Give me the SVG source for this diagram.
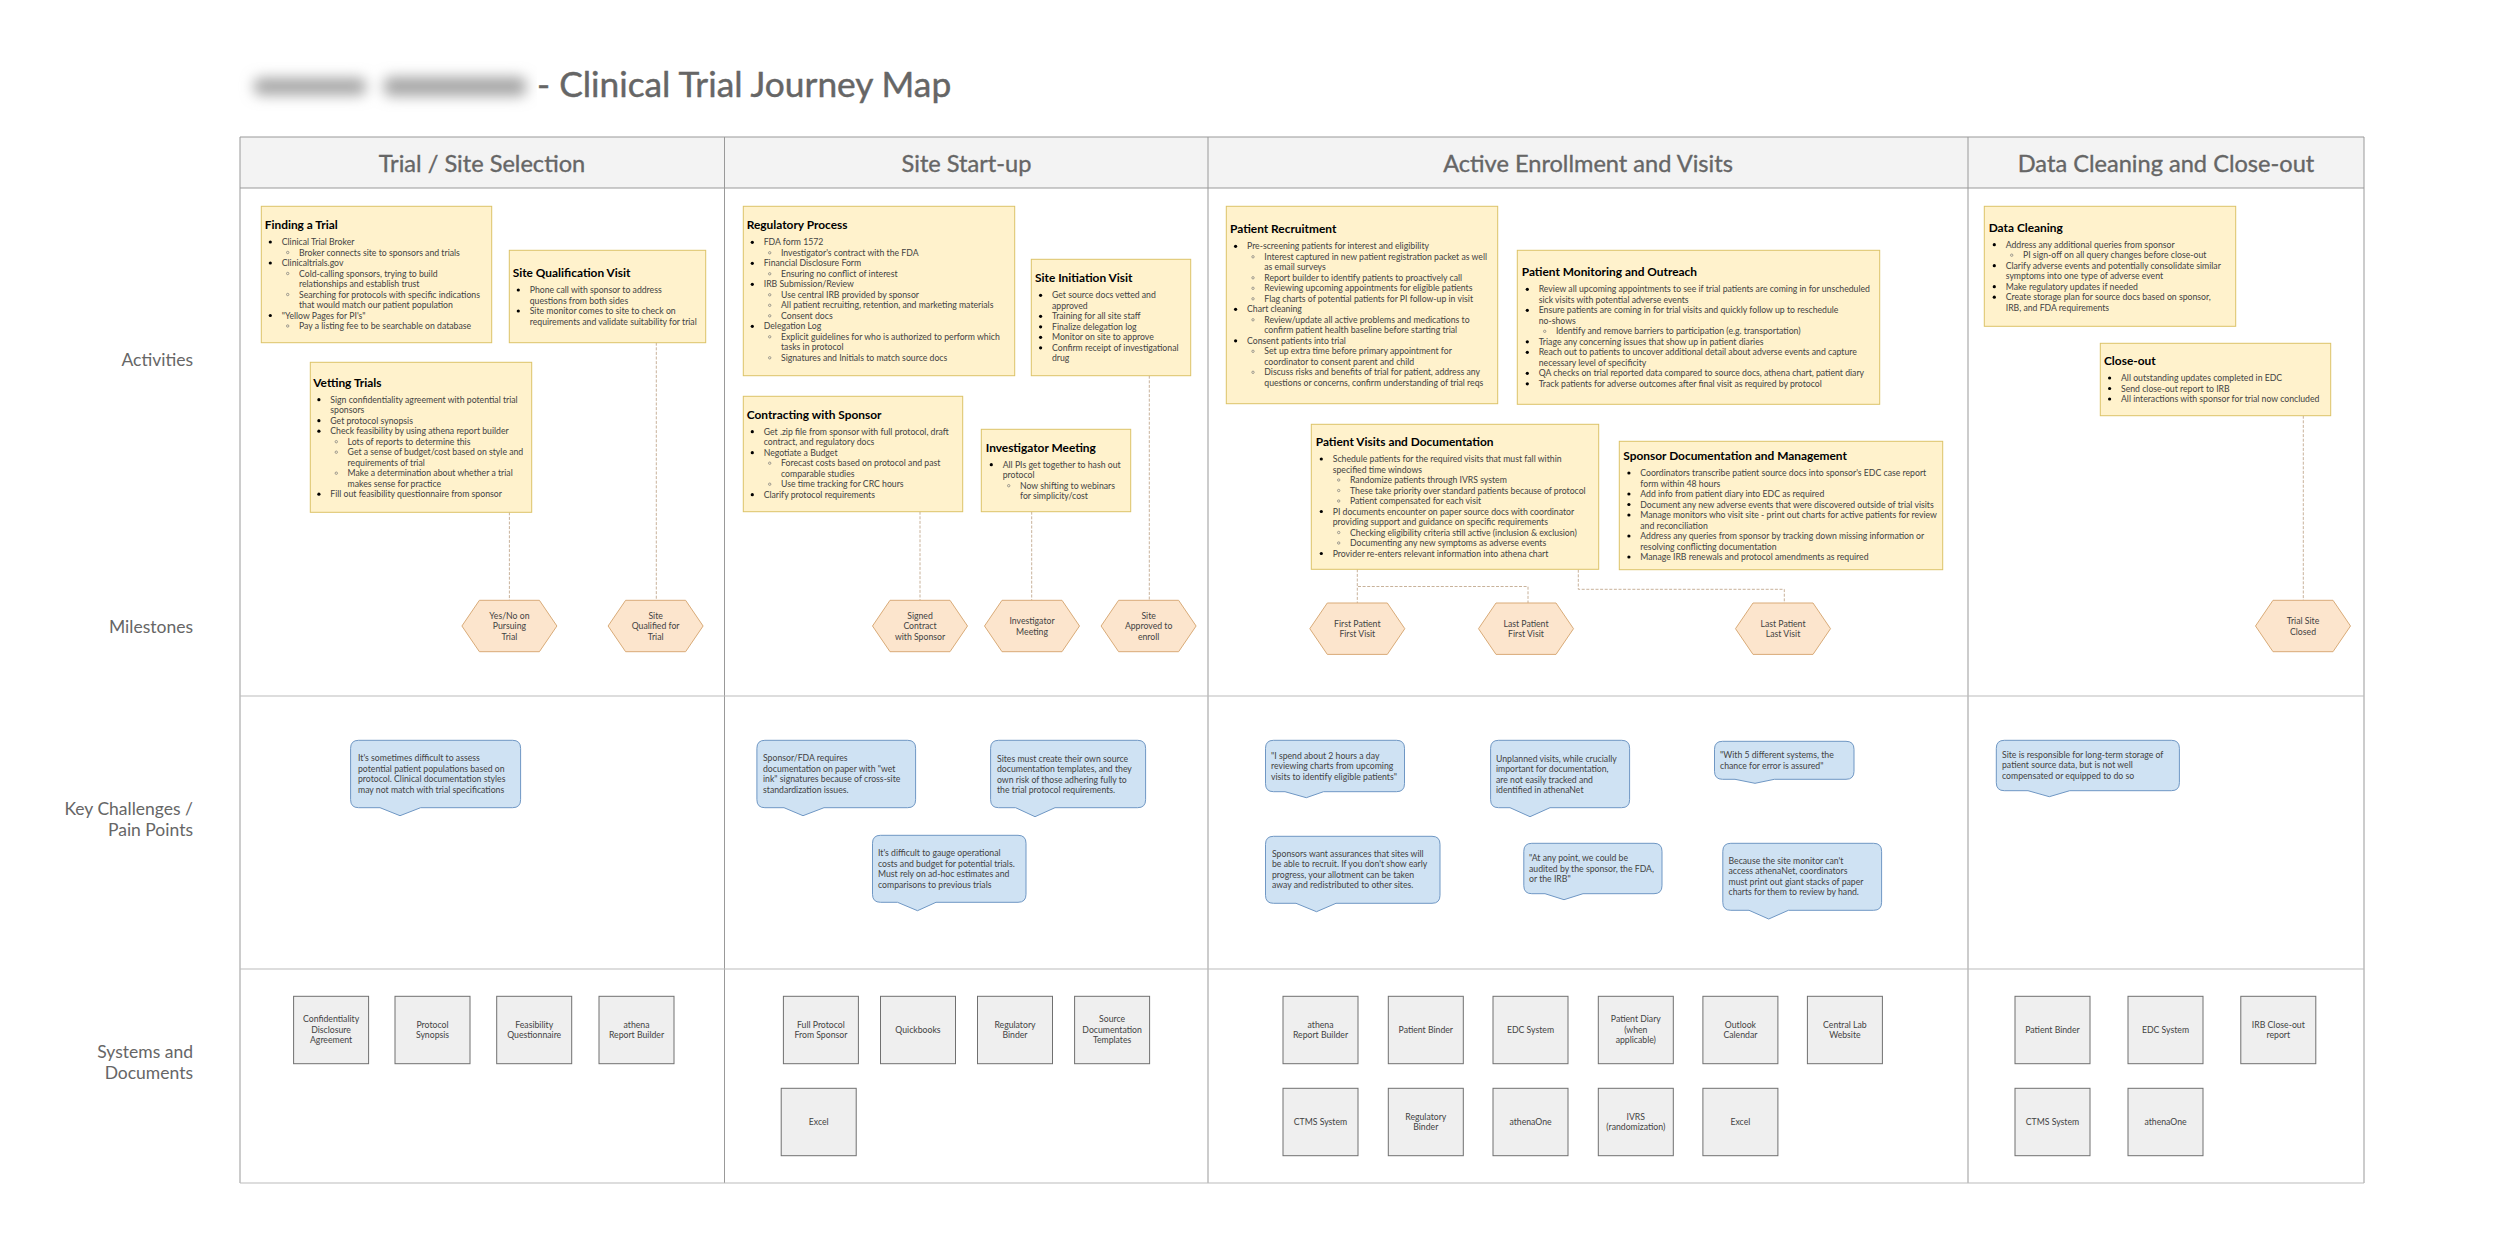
<svg xmlns="http://www.w3.org/2000/svg" width="2500" height="1250" viewBox="0 0 2500 1250">
<style>
text{font-family:"Lato","Liberation Sans",sans-serif;fill:#434343;font-size:8.7px}
.h{fill:#000;font-size:11.9px;font-weight:700}
.m{text-anchor:middle}
.c{fill:#fff2cc;stroke:#dcc368;stroke-width:1}
.hx{fill:#fce5cd;stroke:#d9ab78;stroke-width:1}
.bb{fill:#cfe2f3;stroke:#6f97c4;stroke-width:1}
.bx{fill:#efefef;stroke:#707070;stroke-width:1}
.b{fill:#000}
.o{fill:none;stroke:#777;stroke-width:.7}
.hd{fill:#666;stroke:#666;stroke-width:.35;font-size:23.6px;text-anchor:middle}
.rl{fill:#666;font-size:17.5px;text-anchor:end}
.g{stroke:#bbb;stroke-width:1.2;fill:none}
.g2{stroke:#999;stroke-width:1;fill:none}
.dl{stroke:#c2a98e;stroke-width:.9;stroke-dasharray:3 1.6;fill:none}
</style>
<defs>
<filter id="blur" x="-15%" y="-100%" width="130%" height="300%"><feGaussianBlur stdDeviation="7"/></filter>
<clipPath id="blurclip"><rect x="232" y="58" width="305" height="58"/></clipPath>
<polygon id="hex" class="hx" points="-47.5,0 -30,-25.7 30,-25.7 47.5,0 30,25.7 -30,25.7"/>
<rect id="box" class="bx" width="75" height="67.4"/>
<circle id="d" class="b" r="1.6"/>
<circle id="e" class="o" r="1.2"/>
</defs>
<rect width="2500" height="1250" fill="#fff"/>
<g id="title">
<g clip-path="url(#blurclip)"><g filter="url(#blur)" fill="#a4a4a4"><rect x="254" y="78" width="112" height="17" rx="6"/><rect x="384" y="77" width="142" height="19" rx="6"/></g></g>
<text x="537" y="97.3" style="fill:#666;stroke:#666;stroke-width:.45;font-size:35.3px">- Clinical Trial Journey Map</text>
</g>
<g id="grid">
<rect x="240" y="137" width="2124" height="51" fill="#f3f3f3"/>
<path class="g2" d="M240 137H2364V1183M240 137V1183M240 188H2364M724.5 137V1183M1208 137V1183M1968 137V1183"/>
<path class="g" d="M240 696H2364M240 969H2364M240 1183H2364"/>
<text class="hd" x="482" y="171.7">Trial / Site Selection</text>
<text class="hd" x="966.5" y="171.7">Site Start-up</text>
<text class="hd" x="1588" y="171.7">Active Enrollment and Visits</text>
<text class="hd" x="2166" y="171.7">Data Cleaning and Close-out</text>
<text class="rl" x="193" y="366">Activities</text>
<text class="rl" x="193" y="633">Milestones</text>
<text class="rl" x="193" y="814.5">Key Challenges /</text>
<text class="rl" x="193" y="835.5">Pain Points</text>
<text class="rl" x="193" y="1058">Systems and</text>
<text class="rl" x="193" y="1079">Documents</text>
</g>
<g id="connectors">
<path class="dl" d="M509.4 512.3V600.3"/>
<path class="dl" d="M656.3 342.7V600.3"/>
<path class="dl" d="M920 511.7V600.3"/>
<path class="dl" d="M1031.7 511.7V600.3"/>
<path class="dl" d="M1149.3 375.7V600.3"/>
<path class="dl" d="M1357.3 569.3V603"/>
<path class="dl" d="M1358 586.5H1528V603"/>
<path class="dl" d="M1578.3 569.7V589.3H1784.3V603"/>
<path class="dl" d="M2303.3 415.7V600.3"/>
</g>

<g id="finding-a-trial">
<rect class="c" x="261.3" y="206.3" width="230.4" height="136.4"/>
<g transform="translate(264.7,229)">
<text class="h">Finding a Trial</text>
<use href="#d" x="5.6" y="13"/><text x="17" y="16">Clinical Trial Broker</text>
<use href="#e" x="23" y="23.5"/><text x="34.3" y="26.5">Broker connects site to sponsors and trials</text>
<use href="#d" x="5.6" y="34"/><text x="17" y="37">Clinicaltrials.gov</text>
<use href="#e" x="23" y="44.5"/><text x="34.3" y="47.5">Cold-calling sponsors, trying to build</text>
<text x="34.3" y="58">relationships and establish trust</text>
<use href="#e" x="23" y="65.5"/><text x="34.3" y="68.5">Searching for protocols with specific indications</text>
<text x="34.3" y="79">that would match our patient population</text>
<use href="#d" x="5.6" y="86.5"/><text x="17" y="89.5">"Yellow Pages for PI's"</text>
<use href="#e" x="23" y="97"/><text x="34.3" y="100">Pay a listing fee to be searchable on database</text>
</g></g>

<g id="site-qualification-visit">
<rect class="c" x="509.3" y="250.3" width="196.4" height="92.4"/>
<g transform="translate(512.7,277)">
<text class="h">Site Qualification Visit</text>
<use href="#d" x="5.6" y="13"/><text x="17" y="16">Phone call with sponsor to address</text>
<text x="17" y="26.5">questions from both sides</text>
<use href="#d" x="5.6" y="34"/><text x="17" y="37">Site monitor comes to site to check on</text>
<text x="17" y="47.5">requirements and validate suitability for trial</text>
</g></g>

<g id="vetting-trials">
<rect class="c" x="310.3" y="362.3" width="221.4" height="150"/>
<g transform="translate(313.3,386.7)">
<text class="h">Vetting Trials</text>
<use href="#d" x="5.6" y="13"/><text x="17" y="16">Sign confidentiality agreement with  potential trial</text>
<text x="17" y="26.5">sponsors</text>
<use href="#d" x="5.6" y="34"/><text x="17" y="37">Get protocol synopsis</text>
<use href="#d" x="5.6" y="44.5"/><text x="17" y="47.5">Check feasibility by using athena report builder</text>
<use href="#e" x="23" y="55"/><text x="34.3" y="58">Lots of reports to determine this</text>
<use href="#e" x="23" y="65.5"/><text x="34.3" y="68.5">Get a sense of budget/cost based on style and</text>
<text x="34.3" y="79">requirements of trial</text>
<use href="#e" x="23" y="86.5"/><text x="34.3" y="89.5">Make a determination about whether a trial</text>
<text x="34.3" y="100">makes sense for practice</text>
<use href="#d" x="5.6" y="107.5"/><text x="17" y="110.5">Fill out feasibility questionnaire from sponsor</text>
</g></g>

<g id="regulatory-process">
<rect class="c" x="743.3" y="206.3" width="271.4" height="169.4"/>
<g transform="translate(746.7,229.3)">
<text class="h">Regulatory Process</text>
<use href="#d" x="5.6" y="13"/><text x="17" y="16">FDA form 1572</text>
<use href="#e" x="23" y="23.5"/><text x="34.3" y="26.5">Investigator's contract with the FDA</text>
<use href="#d" x="5.6" y="34"/><text x="17" y="37">Financial Disclosure Form</text>
<use href="#e" x="23" y="44.5"/><text x="34.3" y="47.5">Ensuring no conflict of interest</text>
<use href="#d" x="5.6" y="55"/><text x="17" y="58">IRB Submission/Review</text>
<use href="#e" x="23" y="65.5"/><text x="34.3" y="68.5">Use central IRB provided by sponsor</text>
<use href="#e" x="23" y="76"/><text x="34.3" y="79">All patient recruiting, retention, and marketing materials</text>
<use href="#e" x="23" y="86.5"/><text x="34.3" y="89.5">Consent docs</text>
<use href="#d" x="5.6" y="97"/><text x="17" y="100">Delegation Log</text>
<use href="#e" x="23" y="107.5"/><text x="34.3" y="110.5">Explicit guidelines  for who is authorized to perform which</text>
<text x="34.3" y="121">tasks in protocol</text>
<use href="#e" x="23" y="128.5"/><text x="34.3" y="131.5">Signatures and Initials to match source docs</text>
</g></g>

<g id="site-initiation-visit">
<rect class="c" x="1031.3" y="259.3" width="159.4" height="116.4"/>
<g transform="translate(1035,282.3)">
<text class="h">Site Initiation Visit</text>
<use href="#d" x="5.6" y="13"/><text x="17" y="16">Get source docs vetted and</text>
<text x="17" y="26.5">approved</text>
<use href="#d" x="5.6" y="34"/><text x="17" y="37">Training for all site staff</text>
<use href="#d" x="5.6" y="44.5"/><text x="17" y="47.5">Finalize delegation log</text>
<use href="#d" x="5.6" y="55"/><text x="17" y="58">Monitor on site to approve</text>
<use href="#d" x="5.6" y="65.5"/><text x="17" y="68.5">Confirm receipt of investigational</text>
<text x="17" y="79">drug</text>
</g></g>

<g id="contracting-with-sponsor">
<rect class="c" x="743.3" y="396.3" width="219.4" height="115.4"/>
<g transform="translate(746.7,418.7)">
<text class="h">Contracting with Sponsor</text>
<use href="#d" x="5.6" y="13"/><text x="17" y="16">Get .zip file from sponsor with full protocol, draft</text>
<text x="17" y="26.5">contract, and regulatory docs</text>
<use href="#d" x="5.6" y="34"/><text x="17" y="37">Negotiate a Budget</text>
<use href="#e" x="23" y="44.5"/><text x="34.3" y="47.5">Forecast costs based on protocol and past</text>
<text x="34.3" y="58">comparable studies</text>
<use href="#e" x="23" y="65.5"/><text x="34.3" y="68.5">Use time tracking for CRC hours</text>
<use href="#d" x="5.6" y="76"/><text x="17" y="79">Clarify protocol requirements</text>
</g></g>

<g id="investigator-meeting">
<rect class="c" x="981.3" y="429.3" width="149.4" height="82.4"/>
<g transform="translate(985.7,451.7)">
<text class="h">Investigator Meeting</text>
<use href="#d" x="5.6" y="13"/><text x="17" y="16">All PIs get together to hash out</text>
<text x="17" y="26.5">protocol</text>
<use href="#e" x="23" y="34"/><text x="34.3" y="37">Now shifting to webinars</text>
<text x="34.3" y="47.5">for simplicity/cost</text>
</g></g>

<g id="patient-recruitment">
<rect class="c" x="1226.3" y="206.3" width="271.4" height="197.4"/>
<g transform="translate(1230,233.3)">
<text class="h">Patient Recruitment</text>
<use href="#d" x="5.6" y="13"/><text x="17" y="16">Pre-screening patients for interest and eligibility</text>
<use href="#e" x="23" y="23.5"/><text x="34.3" y="26.5">Interest captured in new patient registration packet as well</text>
<text x="34.3" y="37">as email surveys</text>
<use href="#e" x="23" y="44.5"/><text x="34.3" y="47.5">Report builder to identify patients to proactively call</text>
<use href="#e" x="23" y="55"/><text x="34.3" y="58">Reviewing upcoming appointments for eligible patients</text>
<use href="#e" x="23" y="65.5"/><text x="34.3" y="68.5">Flag charts of potential patients for PI follow-up in visit</text>
<use href="#d" x="5.6" y="76"/><text x="17" y="79">Chart cleaning</text>
<use href="#e" x="23" y="86.5"/><text x="34.3" y="89.5">Review/update all active problems and medications to</text>
<text x="34.3" y="100">confirm patient health baseline before starting trial</text>
<use href="#d" x="5.6" y="107.5"/><text x="17" y="110.5">Consent patients into trial</text>
<use href="#e" x="23" y="118"/><text x="34.3" y="121">Set up extra time before primary appointment for</text>
<text x="34.3" y="131.5">coordinator to consent parent and child</text>
<use href="#e" x="23" y="139"/><text x="34.3" y="142">Discuss risks and benefits of trial for patient, address any</text>
<text x="34.3" y="152.5">questions or concerns, confirm understanding of trial reqs</text>
</g></g>

<g id="patient-monitoring-and-outreach">
<rect class="c" x="1517.3" y="250.3" width="362.4" height="154"/>
<g transform="translate(1521.7,276.3)">
<text class="h">Patient Monitoring and Outreach</text>
<use href="#d" x="5.6" y="13"/><text x="17" y="16">Review all upcoming appointments to see if trial patients are coming in for unscheduled</text>
<text x="17" y="26.5">sick visits with potential adverse events</text>
<use href="#d" x="5.6" y="34"/><text x="17" y="37">Ensure patients are coming in for trial visits and quickly follow up to reschedule</text>
<text x="17" y="47.5">no-shows</text>
<use href="#e" x="23" y="55"/><text x="34.3" y="58">Identify and remove barriers to participation (e.g. transportation)</text>
<use href="#d" x="5.6" y="65.5"/><text x="17" y="68.5">Triage any concerning issues that show up in patient diaries</text>
<use href="#d" x="5.6" y="76"/><text x="17" y="79">Reach out to patients to uncover additional detail about adverse events and capture</text>
<text x="17" y="89.5">necessary level of specificity</text>
<use href="#d" x="5.6" y="97"/><text x="17" y="100">QA checks on trial reported data compared to source docs, athena chart, patient diary</text>
<use href="#d" x="5.6" y="107.5"/><text x="17" y="110.5">Track patients for adverse outcomes  after final visit as required by protocol</text>
</g></g>

<g id="patient-visits-and-documentation">
<rect class="c" x="1311.3" y="424.3" width="287.4" height="145"/>
<g transform="translate(1315.7,446)">
<text class="h">Patient Visits and Documentation</text>
<use href="#d" x="5.6" y="13"/><text x="17" y="16">Schedule patients for the required visits that must fall within</text>
<text x="17" y="26.5">specified  time windows</text>
<use href="#e" x="23" y="34"/><text x="34.3" y="37">Randomize patients through IVRS system</text>
<use href="#e" x="23" y="44.5"/><text x="34.3" y="47.5">These take priority over standard patients because of protocol</text>
<use href="#e" x="23" y="55"/><text x="34.3" y="58">Patient compensated for each visit</text>
<use href="#d" x="5.6" y="65.5"/><text x="17" y="68.5">PI documents encounter on paper source docs with coordinator</text>
<text x="17" y="79">providing support and guidance on specific requirements</text>
<use href="#e" x="23" y="86.5"/><text x="34.3" y="89.5">Checking eligibility criteria still active (inclusion &amp; exclusion)</text>
<use href="#e" x="23" y="97"/><text x="34.3" y="100">Documenting any new symptoms as adverse events</text>
<use href="#d" x="5.6" y="107.5"/><text x="17" y="110.5">Provider re-enters relevant information into athena chart</text>
</g></g>

<g id="sponsor-documentation-and-management">
<rect class="c" x="1619.3" y="441.3" width="323.4" height="128.4"/>
<g transform="translate(1623.3,460)">
<text class="h">Sponsor Documentation and Management</text>
<use href="#d" x="5.6" y="13"/><text x="17" y="16">Coordinators transcribe patient source docs into sponsor's EDC case report</text>
<text x="17" y="26.5">form within 48 hours</text>
<use href="#d" x="5.6" y="34"/><text x="17" y="37">Add info from patient diary into EDC as required</text>
<use href="#d" x="5.6" y="44.5"/><text x="17" y="47.5">Document any new adverse events that were discovered outside of trial visits</text>
<use href="#d" x="5.6" y="55"/><text x="17" y="58">Manage monitors who visit site - print out charts for active patients for review</text>
<text x="17" y="68.5">and reconciliation</text>
<use href="#d" x="5.6" y="76"/><text x="17" y="79">Address any queries from sponsor by tracking down missing information or</text>
<text x="17" y="89.5">resolving conflicting documentation</text>
<use href="#d" x="5.6" y="97"/><text x="17" y="100">Manage IRB renewals and protocol amendments as required</text>
</g></g>

<g id="data-cleaning">
<rect class="c" x="1984.3" y="206.3" width="251.4" height="120"/>
<g transform="translate(1988.7,231.7)">
<text class="h">Data Cleaning</text>
<use href="#d" x="5.6" y="13"/><text x="17" y="16">Address any additional queries from sponsor</text>
<use href="#e" x="23" y="23.5"/><text x="34.3" y="26.5">PI sign-off on all query changes before close-out</text>
<use href="#d" x="5.6" y="34"/><text x="17" y="37">Clarify adverse events and potentially consolidate similar</text>
<text x="17" y="47.5">symptoms into one type of adverse event</text>
<use href="#d" x="5.6" y="55"/><text x="17" y="58">Make regulatory updates if needed</text>
<use href="#d" x="5.6" y="65.5"/><text x="17" y="68.5">Create storage plan for source docs based on sponsor,</text>
<text x="17" y="79">IRB, and FDA requirements</text>
</g></g>

<g id="close-out">
<rect class="c" x="2100.3" y="343.3" width="230.4" height="72.4"/>
<g transform="translate(2104,365)">
<text class="h">Close-out</text>
<use href="#d" x="5.6" y="13"/><text x="17" y="16">All outstanding  updates completed  in EDC</text>
<use href="#d" x="5.6" y="23.5"/><text x="17" y="26.5">Send close-out report to IRB</text>
<use href="#d" x="5.6" y="34"/><text x="17" y="37">All interactions with sponsor for trial now concluded</text>
</g></g>

<g id="ms-yes-no" transform="translate(509.4,626)"><use href="#hex"/><text class="m" y="-7.3">Yes/No on</text><text class="m" y="3.2">Pursuing</text><text class="m" y="13.7">Trial</text></g>
<g id="ms-site-qualified" transform="translate(655.6,626)"><use href="#hex"/><text class="m" y="-7.3">Site</text><text class="m" y="3.2">Qualified for</text><text class="m" y="13.7">Trial</text></g>
<g id="ms-signed-contract" transform="translate(920,626)"><use href="#hex"/><text class="m" y="-7.3">Signed</text><text class="m" y="3.2">Contract</text><text class="m" y="13.7">with Sponsor</text></g>
<g id="ms-investigator-meeting" transform="translate(1032,626)"><use href="#hex"/><text class="m" y="-2">Investigator</text><text class="m" y="8.5">Meeting</text></g>
<g id="ms-site-approved" transform="translate(1148.6,626)"><use href="#hex"/><text class="m" y="-7.3">Site</text><text class="m" y="3.2">Approved to</text><text class="m" y="13.7">enroll</text></g>
<g id="ms-fpfv" transform="translate(1357.3,628.7)"><use href="#hex"/><text class="m" y="-2">First Patient</text><text class="m" y="8.5">First Visit</text></g>
<g id="ms-lpfv" transform="translate(1526,628.7)"><use href="#hex"/><text class="m" y="-2">Last Patient</text><text class="m" y="8.5">First Visit</text></g>
<g id="ms-lplv" transform="translate(1783,628.7)"><use href="#hex"/><text class="m" y="-2">Last Patient</text><text class="m" y="8.5">Last Visit</text></g>
<g id="ms-closed" transform="translate(2303,626)"><use href="#hex"/><text class="m" y="-2">Trial Site</text><text class="m" y="8.5">Closed</text></g>

<g id="pain-1"><path class="bb" d="M358.6 740.3H512.6Q520.6 740.3 520.6 748.3V799.7Q520.6 807.7 512.6 807.7H420.6L400 815.7L380 807.7H358.6Q350.6 807.7 350.6 799.7V748.3Q350.6 740.3 358.6 740.3Z"/>
<text x="358" y="761">It's sometimes difficult to assess</text><text x="358" y="771.5">potential patient populations based on</text><text x="358" y="782">protocol. Clinical documentation styles</text><text x="358" y="792.5">may not match with trial specifications</text></g>
<g id="pain-2"><path class="bb" d="M764.9 740.3H907.6Q915.6 740.3 915.6 748.3V799.7Q915.6 807.7 907.6 807.7H824L803 815.7L784 807.7H764.9Q756.9 807.7 756.9 799.7V748.3Q756.9 740.3 764.9 740.3Z"/>
<text x="763" y="761">Sponsor/FDA requires</text><text x="763" y="771.5">documentation on paper with "wet</text><text x="763" y="782">ink" signatures because of cross-site</text><text x="763" y="792.5">standardization issues.</text></g>
<g id="pain-3"><path class="bb" d="M998.6 740.3H1137.6Q1145.6 740.3 1145.6 748.3V799.7Q1145.6 807.7 1137.6 807.7H1055L1035 816.7L1015.6 807.7H998.6Q990.6 807.7 990.6 799.7V748.3Q990.6 740.3 998.6 740.3Z"/>
<text x="997" y="761.7">Sites must create their own source</text><text x="997" y="772.2">documentation templates, and they</text><text x="997" y="782.7">own risk of those adhering fully to</text><text x="997" y="793.2">the trial protocol requirements.</text></g>
<g id="pain-4"><path class="bb" d="M880.5 835.3H1018Q1026 835.3 1026 843.3V894.3Q1026 902.3 1018 902.3H936L917.5 910.7L897.5 902.3H880.5Q872.5 902.3 872.5 894.3V843.3Q872.5 835.3 880.5 835.3Z"/>
<text x="878" y="856">It's difficult to gauge operational</text><text x="878" y="866.5">costs and budget for potential trials.</text><text x="878" y="877">Must rely on ad-hoc estimates and</text><text x="878" y="887.5">comparisons to previous trials</text></g>
<g id="pain-5"><path class="bb" d="M1273.5 740.3H1396.5Q1404.5 740.3 1404.5 748.3V783.7Q1404.5 791.7 1396.5 791.7H1323.5L1306.3 797.7L1285 791.7H1273.5Q1265.5 791.7 1265.5 783.7V748.3Q1265.5 740.3 1273.5 740.3Z"/>
<text x="1271" y="758.7">"I spend about 2 hours a day</text><text x="1271" y="769.2">reviewing charts from upcoming</text><text x="1271" y="779.7">visits to identify eligible patients"</text></g>
<g id="pain-6"><path class="bb" d="M1498.6 740.3H1621.6Q1629.6 740.3 1629.6 748.3V799.7Q1629.6 807.7 1621.6 807.7H1550L1530 816.7L1510 807.7H1498.6Q1490.6 807.7 1490.6 799.7V748.3Q1490.6 740.3 1498.6 740.3Z"/>
<text x="1496" y="761.7">Unplanned visits, while crucially</text><text x="1496" y="772.2">important for documentation,</text><text x="1496" y="782.7">are not easily tracked and</text><text x="1496" y="793.2">identified in athenaNet</text></g>
<g id="pain-7"><path class="bb" d="M1722.5 741.3H1846Q1854 741.3 1854 749.3V771.3Q1854 779.3 1846 779.3H1774.4L1755 783.3L1735 779.3H1722.5Q1714.5 779.3 1714.5 771.3V749.3Q1714.5 741.3 1722.5 741.3Z"/>
<text x="1720" y="758">"With 5 different systems, the</text><text x="1720" y="768.5">chance for error is assured"</text></g>
<g id="pain-8"><path class="bb" d="M1273.5 836.3H1432Q1440 836.3 1440 844.3V895.3Q1440 903.3 1432 903.3H1336L1316.5 911.7L1296 903.3H1273.5Q1265.5 903.3 1265.5 895.3V844.3Q1265.5 836.3 1273.5 836.3Z"/>
<text x="1272" y="856.7">Sponsors want assurances that sites will</text><text x="1272" y="867.2">be able to recruit. If you don't show early</text><text x="1272" y="877.7">progress, your allotment can be taken</text><text x="1272" y="888.2">away and redistributed to other sites.</text></g>
<g id="pain-9"><path class="bb" d="M1531.8 843.3H1654Q1662 843.3 1662 851.3V885.7Q1662 893.7 1654 893.7H1583L1564 899.7L1545 893.7H1531.8Q1523.8 893.7 1523.8 885.7V851.3Q1523.8 843.3 1531.8 843.3Z"/>
<text x="1529" y="861">"At any point, we could be</text><text x="1529" y="871.5">audited by the sponsor, the FDA,</text><text x="1529" y="882">or the IRB"</text></g>
<g id="pain-10"><path class="bb" d="M1730.8 843.3H1873.6Q1881.6 843.3 1881.6 851.3V902.3Q1881.6 910.3 1873.6 910.3H1788.4L1768.7 919L1749 910.3H1730.8Q1722.8 910.3 1722.8 902.3V851.3Q1722.8 843.3 1730.8 843.3Z"/>
<text x="1728.5" y="863.7">Because the site monitor can't</text><text x="1728.5" y="874.2">access athenaNet, coordinators</text><text x="1728.5" y="884.7">must print out giant stacks of paper</text><text x="1728.5" y="895.2">charts for them to review by hand.</text></g>
<g id="pain-11"><path class="bb" d="M2004.3 740.3H2171.4Q2179.4 740.3 2179.4 748.3V782.7Q2179.4 790.7 2171.4 790.7H2069.7L2049.3 796.7L2028 790.7H2004.3Q1996.3 790.7 1996.3 782.7V748.3Q1996.3 740.3 2004.3 740.3Z"/>
<text x="2002" y="757.7">Site is responsible for long-term storage of</text><text x="2002" y="768.2">patient source data, but is not well</text><text x="2002" y="778.7">compensated or equipped to do so</text></g>

<g id="sys-confidentiality" transform="translate(293.6,996.3)"><use href="#box"/><text class="m" x="37.5" y="26.1">Confidentiality</text><text class="m" x="37.5" y="36.7">Disclosure</text><text class="m" x="37.5" y="47.1">Agreement</text></g>
<g id="sys-protocol-synopsis" transform="translate(395,996.3)"><use href="#box"/><text class="m" x="37.5" y="31.4">Protocol</text><text class="m" x="37.5" y="41.9">Synopsis</text></g>
<g id="sys-feasibility" transform="translate(496.7,996.3)"><use href="#box"/><text class="m" x="37.5" y="31.4">Feasibility</text><text class="m" x="37.5" y="41.9">Questionnaire</text></g>
<g id="sys-report-builder-1" transform="translate(599,996.3)"><use href="#box"/><text class="m" x="37.5" y="31.4">athena</text><text class="m" x="37.5" y="41.9">Report Builder</text></g>
<g id="sys-full-protocol" transform="translate(783.4,996.3)"><use href="#box"/><text class="m" x="37.5" y="31.4">Full Protocol</text><text class="m" x="37.5" y="41.9">From Sponsor</text></g>
<g id="sys-quickbooks" transform="translate(880.5,996.3)"><use href="#box"/><text class="m" x="37.5" y="36.7">Quickbooks</text></g>
<g id="sys-regulatory-binder-1" transform="translate(977.5,996.3)"><use href="#box"/><text class="m" x="37.5" y="31.4">Regulatory</text><text class="m" x="37.5" y="41.9">Binder</text></g>
<g id="sys-source-templates" transform="translate(1074.6,996.3)"><use href="#box"/><text class="m" x="37.5" y="26.1">Source</text><text class="m" x="37.5" y="36.7">Documentation</text><text class="m" x="37.5" y="47.1">Templates</text></g>
<g id="sys-excel-1" transform="translate(781.2,1088.3)"><use href="#box"/><text class="m" x="37.5" y="36.7">Excel</text></g>
<g id="sys-report-builder-2" transform="translate(1283,996.3)"><use href="#box"/><text class="m" x="37.5" y="31.4">athena</text><text class="m" x="37.5" y="41.9">Report Builder</text></g>
<g id="sys-patient-binder-1" transform="translate(1388.3,996.3)"><use href="#box"/><text class="m" x="37.5" y="36.7">Patient Binder</text></g>
<g id="sys-edc-1" transform="translate(1493,996.3)"><use href="#box"/><text class="m" x="37.5" y="36.7">EDC System</text></g>
<g id="sys-patient-diary" transform="translate(1598.3,996.3)"><use href="#box"/><text class="m" x="37.5" y="26.1">Patient Diary</text><text class="m" x="37.5" y="36.7">(when</text><text class="m" x="37.5" y="47.1">applicable)</text></g>
<g id="sys-outlook" transform="translate(1702.9,996.3)"><use href="#box"/><text class="m" x="37.5" y="31.4">Outlook</text><text class="m" x="37.5" y="41.9">Calendar</text></g>
<g id="sys-central-lab" transform="translate(1807.4,996.3)"><use href="#box"/><text class="m" x="37.5" y="31.4">Central Lab</text><text class="m" x="37.5" y="41.9">Website</text></g>
<g id="sys-ctms-1" transform="translate(1283,1088.3)"><use href="#box"/><text class="m" x="37.5" y="36.7">CTMS System</text></g>
<g id="sys-regulatory-binder-2" transform="translate(1388.3,1088.3)"><use href="#box"/><text class="m" x="37.5" y="31.4">Regulatory</text><text class="m" x="37.5" y="41.9">Binder</text></g>
<g id="sys-athenaone-1" transform="translate(1493,1088.3)"><use href="#box"/><text class="m" x="37.5" y="36.7">athenaOne</text></g>
<g id="sys-ivrs" transform="translate(1598.3,1088.3)"><use href="#box"/><text class="m" x="37.5" y="31.4">IVRS</text><text class="m" x="37.5" y="41.9">(randomization)</text></g>
<g id="sys-excel-2" transform="translate(1702.9,1088.3)"><use href="#box"/><text class="m" x="37.5" y="36.7">Excel</text></g>
<g id="sys-patient-binder-2" transform="translate(2015,996.3)"><use href="#box"/><text class="m" x="37.5" y="36.7">Patient Binder</text></g>
<g id="sys-edc-2" transform="translate(2128,996.3)"><use href="#box"/><text class="m" x="37.5" y="36.7">EDC System</text></g>
<g id="sys-irb-closeout" transform="translate(2240.8,996.3)"><use href="#box"/><text class="m" x="37.5" y="31.4">IRB Close-out</text><text class="m" x="37.5" y="41.9">report</text></g>
<g id="sys-ctms-2" transform="translate(2015,1088.3)"><use href="#box"/><text class="m" x="37.5" y="36.7">CTMS System</text></g>
<g id="sys-athenaone-2" transform="translate(2128,1088.3)"><use href="#box"/><text class="m" x="37.5" y="36.7">athenaOne</text></g>
</svg>
